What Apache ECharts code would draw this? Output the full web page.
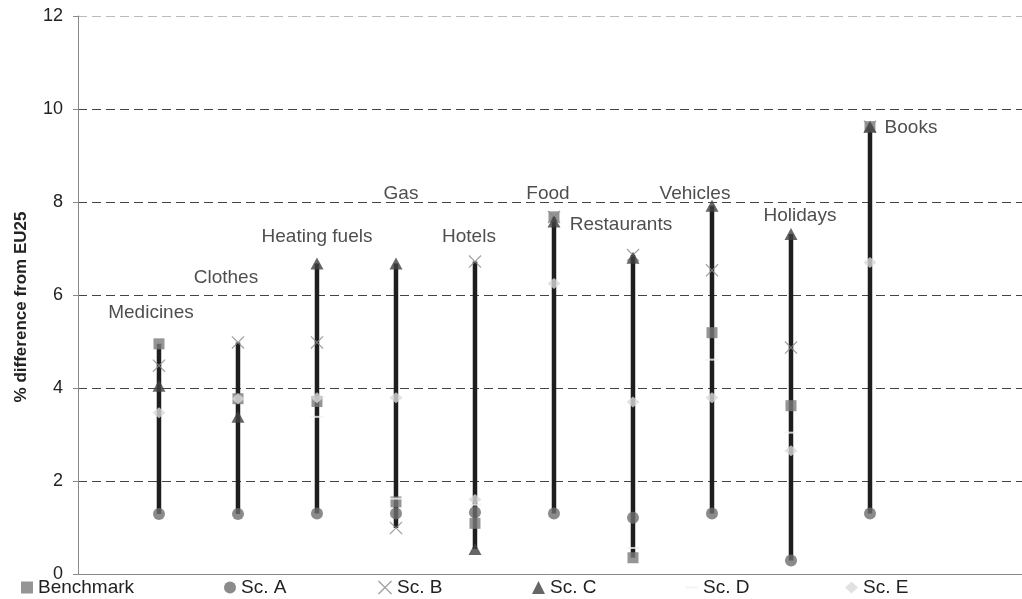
<!DOCTYPE html>
<html>
<head>
<meta charset="utf-8">
<script src="https://cdn.jsdelivr.net/npm/echarts@6/dist/echarts.min.js"></script>
<style>
html,body{margin:0;padding:0;background:#fff;}
#chart{width:1022px;height:599px;}
</style>
</head>
<body>
<div id="chart"></div>
<script>
// ---- data ----
const categories = ['Medicines','Clothes','Heating fuels','Gas','Hotels','Food','Restaurants','Vehicles','Holidays','Books'];
const benchmark = [4.95, 3.77, 3.71, 1.55, 1.09, 7.68, 0.35, 5.19, 3.62, 9.62];
const scA       = [1.29, 1.29, 1.30, 1.30, 1.33, 1.30, 1.21, 1.30, 0.29, 1.30];
const scB       = [4.48, 4.98, 4.98, 0.99, 6.72, 7.68, 6.86, 6.53, 4.87, 9.62];
const scC       = [4.05, 3.38, 6.68, 6.68, 0.54, 7.58, 6.80, 7.92, 7.31, 9.62];
const scD       = [null, null, 3.38, 1.62, 1.49, null, 0.56, 4.61, 3.04, null];
const scE       = [3.47, 3.77, 3.79, 3.79, 1.60, 6.25, 3.70, 3.79, 2.65, 6.70];
const yTicks    = [0, 2, 4, 6, 8, 10, 12];
const yName     = '% difference from EU25';

// ---- layout (label placement, not data) ----
const labelY  = [5.61, 6.38, 7.26, 8.17, 7.26, 8.17, 7.50, 8.17, 7.71, 9.59];
const labelDx = [-8, -12, 0, 5, -6, -6, -12, -17, 9, 41];

const FONT = '"Liberation Sans", Arial, Helvetica, sans-serif';
const xPos = i => i + 1;
const allSeries = [benchmark, scA, scB, scC, scD, scE];
const rangeData = categories.map((c, i) => {
  const vals = allSeries.map(s => s[i]).filter(v => v != null);
  return [xPos(i), Math.min(...vals), Math.max(...vals)];
});
const pts = arr => arr.map((v, i) => v == null ? null : [xPos(i), v]).filter(Boolean);

const crossPath = 'path://M0,0.8L0.8,0L6,5.2L11.2,0L12,0.8L6.8,6L12,11.2L11.2,12L6,6.8L0.8,12L0,11.2L5.2,6Z';

const chart = echarts.init(document.getElementById('chart'), null, {renderer: 'canvas'});

function legendAt(name, left, extra) {
  return Object.assign({
    data: [name], left: left, top: 578, itemWidth: 12, itemHeight: 12, itemGap: 0, padding: 0,
    textStyle: {fontFamily: FONT, fontSize: 19, color: '#222'}, selectedMode: false
  }, extra || {});
}

chart.setOption({
  animation: false,
  backgroundColor: '#fff',
  grid: {left: 78, right: -6, top: 16, bottom: 25, containLabel: false, outerBoundsMode: 'none'},
  legend: [
    legendAt('Benchmark', 21),
    legendAt('Sc. A', 224),
    legendAt('Sc. B', 378, {itemWidth: 14, itemHeight: 14}),
    legendAt('Sc. C', 532, {itemWidth: 13, itemHeight: 13}),
    legendAt('Sc. D', 685, {itemWidth: 13, itemHeight: 2}),
    legendAt('Sc. E', 845, {itemWidth: 13, itemHeight: 12})
  ],
  xAxis: {
    type: 'value', min: -0.025, max: 12,
    axisLine: {show: true, onZero: false, lineStyle: {color: '#888', width: 1}},
    axisTick: {show: false}, axisLabel: {show: false}, splitLine: {show: false}
  },
  yAxis: {
    type: 'value', min: yTicks[0], max: yTicks[yTicks.length - 1], interval: 2,
    name: yName, nameLocation: 'middle', nameRotate: 90, nameGap: 48,
    nameTextStyle: {fontFamily: FONT, fontSize: 17, fontWeight: 'bold', color: '#222', padding: [0, 24, 0, 0]},
    axisLine: {show: true, onZero: false, lineStyle: {color: '#888', width: 1}},
    axisTick: {show: true, inside: false, length: 5, lineStyle: {color: '#888'}},
    axisLabel: {fontFamily: FONT, fontSize: 18, color: '#222', margin: 15,
      formatter: v => yTicks.includes(v) ? String(v) : ''},
    splitLine: {show: true, lineStyle: {type: [9, 5], width: 1,
      color: ['#444', '#444', '#444', '#444', '#444', '#444', '#bbb']}}
  },
  series: [
    {
      name: 'range', type: 'custom', silent: true, z: 1,
      data: rangeData, encode: {x: 0, y: [1, 2]},
      renderItem: function (params, api) {
        const p1 = api.coord([api.value(0), api.value(1)]);
        const p2 = api.coord([api.value(0), api.value(2)]);
        return {type: 'line', shape: {x1: p1[0], y1: p1[1], x2: p2[0], y2: p2[1]},
          style: {stroke: '#1e1e1e', lineWidth: 4.5}};
      }
    },
    {name: 'Benchmark', type: 'scatter', z: 2, symbol: 'rect', symbolSize: 11,
      itemStyle: {color: '#7b7b7b'}, data: pts(benchmark)},
    {name: 'Sc. A', type: 'scatter', z: 3, symbol: 'circle', symbolSize: 12,
      itemStyle: {color: '#6e6e6e'}, data: pts(scA)},
    {name: 'Sc. B', type: 'scatter', z: 4, symbol: crossPath, symbolSize: 13,
      itemStyle: {color: '#8a8a8a'}, data: pts(scB)},
    {name: 'Sc. C', type: 'scatter', z: 5, symbol: 'triangle', symbolSize: [13, 12],
      itemStyle: {color: '#404040'}, data: pts(scC)},
    {name: 'Sc. D', type: 'scatter', z: 6, symbol: 'rect', symbolSize: [13, 2],
      itemStyle: {color: '#f2f2f2'}, data: pts(scD)},
    {name: 'Sc. E', type: 'scatter', z: 7, symbol: 'diamond', symbolSize: [13, 11],
      itemStyle: {color: '#dadada'}, data: pts(scE)},
    {
      name: 'labels', type: 'scatter', z: 8, symbolSize: 0, silent: true,
      data: categories.map((c, i) => ({
        value: [xPos(i), labelY[i]],
        label: {show: true, position: 'inside', offset: [labelDx[i], 0], formatter: c,
          fontFamily: FONT, fontSize: 19, color: '#222'}
      }))
    }
  ]
});
</script>
</body>
</html>
